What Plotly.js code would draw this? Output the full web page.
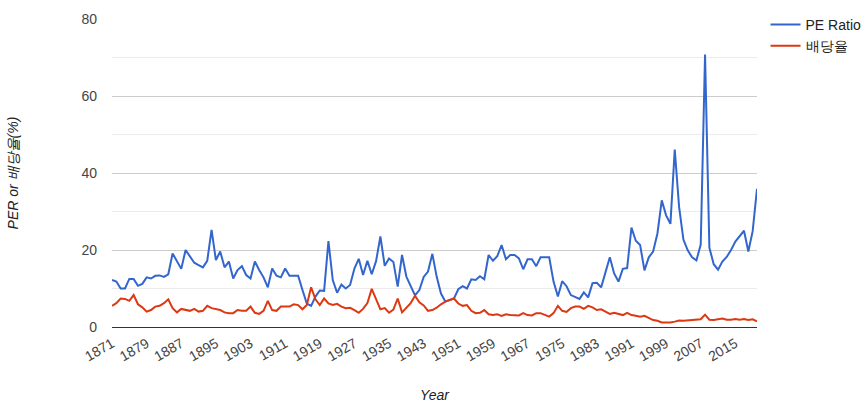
<!DOCTYPE html>
<html>
<head>
<meta charset="utf-8">
<script src="https://cdn.plot.ly/plotly-3.0.1.min.js"></script>
<style>
html,body{margin:0;padding:0;background:#fff;}
#chart{width:865px;height:404px;}
</style>
</head>
<body>
<div id="chart"></div>
<script>
const startYear = 1871;
const tickYears = [1871,1879,1887,1895,1903,1911,1919,1927,1935,1943,1951,1959,1967,1975,1983,1991,1999,2007,2015];
const seriesNames = ["PE Ratio", "배당율"];

const peRatio = [
12.2,11.8,10.0,10.0,12.5,12.5,10.7,11.2,12.9,12.6,
13.3,13.4,13.0,13.7,19.1,17.0,15.1,20.0,18.3,16.7,
16.1,15.5,17.2,25.2,17.4,19.6,15.5,17.0,12.6,14.8,
15.8,13.5,12.6,17.0,14.8,12.9,10.3,15.2,13.3,12.9,
15.2,13.3,13.3,13.3,9.6,6.1,5.5,7.9,9.5,9.4,
22.3,12.2,8.9,11.0,10.0,10.9,15.2,17.7,13.5,17.2,
13.7,17.1,23.5,15.9,17.8,16.9,10.5,18.7,13.1,10.5,
8.2,9.6,13.0,14.4,19.0,13.1,8.7,6.6,7.0,7.4,
9.8,10.6,10.0,12.4,12.2,13.2,12.4,18.7,17.2,18.4,
21.3,17.6,18.7,18.7,17.8,15.0,17.6,17.6,15.8,18.1,
18.1,18.1,11.8,7.9,11.9,10.6,8.3,7.9,7.3,9.0,
7.7,11.4,11.5,10.3,14.4,18.1,13.9,11.8,15.1,15.3,
25.8,22.4,21.3,14.7,18.1,19.6,24.3,32.9,29.0,26.8,
46.1,31.2,22.7,19.9,18.1,17.3,21.4,70.8,20.6,16.3,
14.9,17.0,18.2,20.0,22.2,23.6,25.0,19.6,24.9,35.9
];

const dividendYield = [
5.5,6.2,7.4,7.3,6.8,8.3,5.9,5.1,4.0,4.4,
5.3,5.5,6.2,7.2,4.9,3.8,4.7,4.4,4.2,4.7,
4.0,4.2,5.5,4.9,4.6,4.4,3.8,3.6,3.6,4.4,
4.2,4.2,5.3,3.7,3.4,4.2,6.8,4.4,4.2,5.3,
5.3,5.3,5.9,5.7,4.6,5.7,10.3,7.2,5.7,7.4,
6.1,5.7,6.0,5.3,4.9,5.0,4.4,3.7,4.7,6.2,
9.9,7.0,4.6,4.9,3.7,4.5,7.4,3.8,4.9,6.2,
8.1,6.4,5.6,4.2,4.4,5.0,5.9,6.6,7.0,7.4,
6.1,5.5,5.7,4.2,3.6,3.7,4.4,3.3,3.1,3.3,
2.9,3.3,3.1,3.0,3.0,3.6,3.1,3.0,3.6,3.6,
3.1,2.7,3.6,5.5,4.2,3.9,4.9,5.3,5.3,4.7,
5.5,5.1,4.4,4.6,4.0,3.4,3.7,3.4,3.1,3.7,
3.1,2.9,2.7,2.9,2.3,1.8,1.6,1.2,1.2,1.2,
1.4,1.7,1.6,1.7,1.7,1.8,2.0,3.2,1.9,1.8,
2.0,2.2,1.9,1.9,2.1,1.9,2.1,1.8,2.0,1.5
];

const years = peRatio.map((_, i) => startYear + i);

const FONT = "Liberation Sans, Arial, sans-serif";

const traces = [
  {x: years, y: peRatio, name: seriesNames[0], type: "scatter", mode: "lines",
   line: {color: "#3366cc", width: 2}},
  {x: years, y: dividendYield, name: seriesNames[1], type: "scatter", mode: "lines",
   line: {color: "#dc3912", width: 2}}
];

const layout = {
  width: 865, height: 404,
  margin: {l: 112, r: 108, t: 19, b: 77, autoexpand: false},
  paper_bgcolor: "#fff", plot_bgcolor: "#fff",
  font: {family: FONT, size: 14, color: "#222"},
  showlegend: true,
  legend: {xref: "container", yref: "container", x: 0.885, xanchor: "left", y: 0.978, yanchor: "top",
           itemwidth: 30,
           font: {family: FONT, size: 14, color: "#222"},
           bgcolor: "rgba(0,0,0,0)", tracegroupgap: 0},
  xaxis: {
    range: [years[0], years[years.length - 1]],
    tickmode: "array", tickvals: tickYears, ticktext: tickYears.map(String),
    tickangle: -30, showgrid: false, zeroline: false,
    showline: false, ticks: "", ticklabelstandoff: 5,
    tickfont: {family: FONT, size: 14, color: "#444"},
    title: {text: "<i>Year</i>", font: {family: FONT, size: 14, color: "#222"}, standoff: 26}
  },
  yaxis: {
    range: [0, 80], tickmode: "linear", tick0: 0, dtick: 20,
    showgrid: true, gridcolor: "#cccccc", gridwidth: 1,
    minor: {dtick: 10, tick0: 0, showgrid: true, gridcolor: "#ebebeb", gridwidth: 1, ticks: ""},
    zeroline: true, zerolinecolor: "#333333", zerolinewidth: 1,
    ticks: "", ticklabelstandoff: 14,
    tickfont: {family: FONT, size: 14, color: "#444"},
    title: {text: "<i>PER or 배당율(%)</i>", font: {family: FONT, size: 14, color: "#222"}, standoff: 59}
  },
  hovermode: false
};

Plotly.newPlot("chart", traces, layout, {displayModeBar: false, staticPlot: true});
</script>
</body>
</html>
